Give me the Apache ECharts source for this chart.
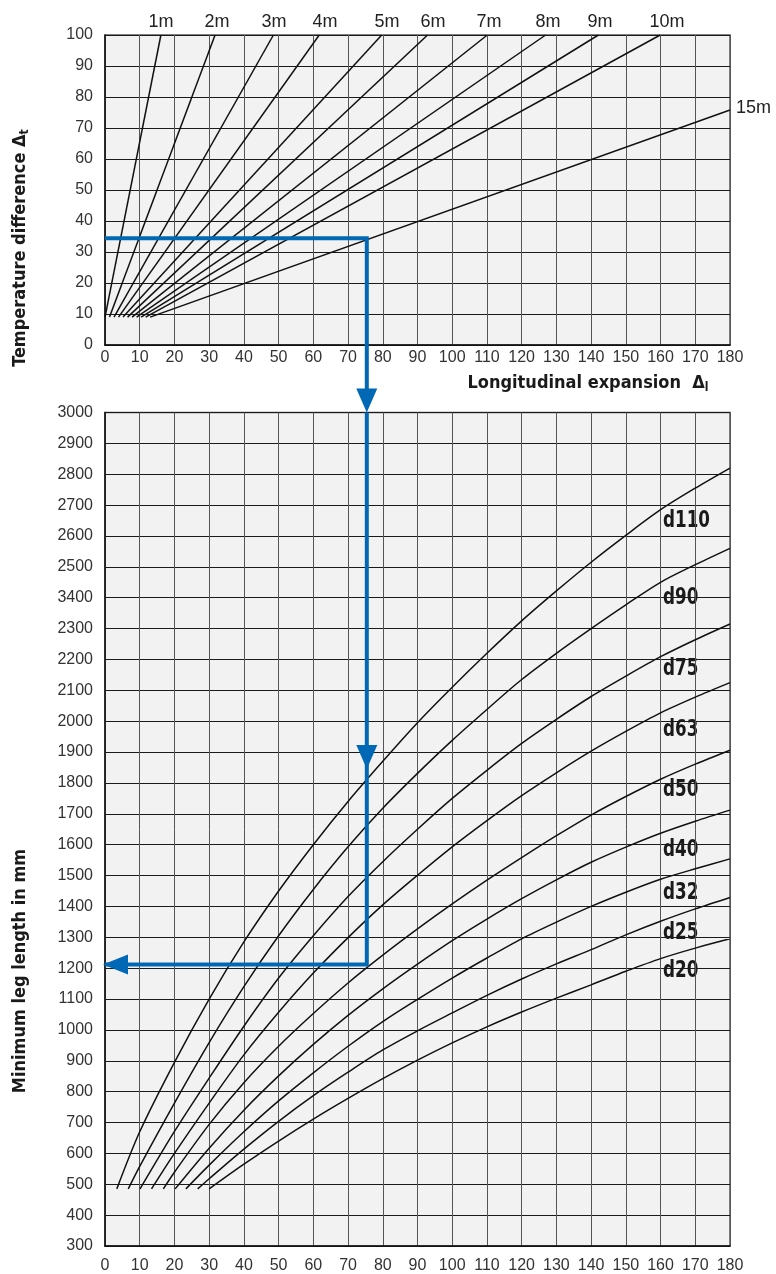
<!DOCTYPE html>
<html>
<head>
<meta charset="utf-8">
<script src="https://cdn.jsdelivr.net/npm/echarts@6/dist/echarts.min.js"></script>
<style>
  html, body { margin: 0; padding: 0; background: #fff; }
  #chart { width: 776px; height: 1274px; }
</style>
</head>
<body>
<div id="chart"></div>
<script>
// top diagram: longitudinal expansion per pipe length
const pipeLengths = ['1m', '2m', '3m', '4m', '5m', '6m', '7m', '8m', '9m', '10m', '15m'];
const startExpansion = [0, 1.3, 2.6, 3.9, 5.2, 6.5, 7.8, 9.1, 10.4, 11.7, 13];
const startTemp = 9;
const endExpansion = [16.1, 31.7, 48.5, 61.7, 79.7, 92.9, 110.1, 126.9, 142.1, 159.9, 180];
const endTemp = [100, 100, 100, 100, 100, 100, 100, 100, 100, 100, 75.8];

// bottom diagram: minimum leg length per pipe diameter
const d110 = [[3.4, 485], [10, 670], [20, 895], [30, 1100], [40, 1285], [50, 1450], [60, 1600], [70, 1740], [80, 1870], [90, 1995], [100, 2110], [110, 2220], [120, 2325], [130, 2422], [140, 2515], [150, 2602], [160, 2685], [170, 2755], [180, 2820]];
const d90 = [[6.7, 485], [10, 558], [20, 763], [30, 959], [40, 1140], [50, 1305], [60, 1455], [70, 1593], [80, 1718], [90, 1831], [100, 1938], [110, 2038], [120, 2135], [130, 2220], [140, 2300], [150, 2377], [160, 2450], [170, 2507], [180, 2560]];
const d75 = [[10.1, 485], [20, 671], [30, 844], [40, 1012], [50, 1168], [60, 1305], [70, 1432], [80, 1545], [90, 1650], [100, 1750], [110, 1841], [120, 1928], [130, 2006], [140, 2080], [150, 2146], [160, 2209], [170, 2264], [180, 2315]];
const d63 = [[13.4, 485], [20, 600], [30, 763], [40, 919], [50, 1057], [60, 1184], [70, 1299], [80, 1405], [90, 1501], [100, 1593], [110, 1678], [120, 1759], [130, 1833], [140, 1903], [150, 1967], [160, 2027], [170, 2078], [180, 2125]];
const d50 = [[16.8, 485], [20, 539], [30, 694], [40, 829], [50, 947], [60, 1053], [70, 1152], [80, 1242], [90, 1327], [100, 1408], [110, 1485], [120, 1558], [130, 1629], [140, 1696], [150, 1756], [160, 1812], [170, 1861], [180, 1906]];
const d40 = [[20.2, 485], [30, 617], [40, 740], [50, 851], [60, 953], [70, 1047], [80, 1133], [90, 1213], [100, 1289], [110, 1359], [120, 1425], [130, 1486], [140, 1543], [150, 1592], [160, 1637], [170, 1676], [180, 1712]];
const d32 = [[23.3, 485], [30, 562], [40, 670], [50, 770], [60, 861], [70, 947], [80, 1027], [90, 1099], [100, 1168], [110, 1233], [120, 1295], [130, 1349], [140, 1400], [150, 1446], [160, 1488], [170, 1522], [180, 1554]];
const d25 = [[26.7, 485], [30, 518], [40, 614], [50, 704], [60, 787], [70, 863], [80, 935], [90, 997], [100, 1055], [110, 1112], [120, 1165], [130, 1214], [140, 1260], [150, 1308], [160, 1352], [170, 1392], [180, 1429]];
const d20 = [[30, 485], [40, 565], [50, 640], [60, 711], [70, 778], [80, 842], [90, 902], [100, 958], [110, 1010], [120, 1058], [130, 1103], [140, 1146], [150, 1190], [160, 1231], [170, 1265], [180, 1295]];
const diameterNames = ['d110', 'd90', 'd75', 'd63', 'd50', 'd40', 'd32', 'd25', 'd20'];
const diameterCurves = [d110, d90, d75, d63, d50, d40, d32, d25, d20];

// tick labels (the original sheet prints 3400 where 2400 belongs)
const tempTicks = ['0', '10', '20', '30', '40', '50', '60', '70', '80', '90', '100'];
const expansionTicks = ['0', '10', '20', '30', '40', '50', '60', '70', '80', '90', '100', '110', '120', '130', '140', '150', '160', '170', '180'];
const legTicks = ['300', '400', '500', '600', '700', '800', '900', '1000', '1100', '1200', '1300', '1400', '1500', '1600', '1700', '1800', '1900', '2000', '2100', '2200', '2300', '3400', '2500', '2600', '2700', '2800', '2900', '3000'];

// worked example (blue path)
const exampleTemp = 34.4;
const exampleExpansion = 75.4;
const exampleLeg = 1212;
const midArrowLeg = 1845;

// label placement (pixels)
const lengthLabelX = [161, 217, 274, 325, 387, 433, 489, 548, 600, 667];
const diameterLabelY = [521, 598, 669, 730, 790, 850, 893, 933, 971];

const tickFont = 'Liberation Sans, Arial, sans-serif';
const boldFont = '"Liberation Sans Narrow", "DejaVu Sans Condensed", "Liberation Sans", sans-serif';
const blue = '#0068b4';

const chart = echarts.init(document.getElementById('chart'));

function axisLabel(list, start, step, margin) {
  return {
    color: '#333',
    fontFamily: tickFont,
    fontSize: 16,
    margin: margin,
    formatter: v => list[Math.round((v - start) / step)]
  };
}

const series = [];
pipeLengths.forEach((name, i) => {
  series.push({
    name, type: 'line', xAxisIndex: 0, yAxisIndex: 0,
    data: [[startExpansion[i], startTemp], [endExpansion[i], endTemp[i]]],
    symbol: 'none', lineStyle: { color: '#111', width: 1.5 }, silent: true
  });
});
diameterCurves.forEach((data, i) => {
  series.push({
    name: diameterNames[i], type: 'line', xAxisIndex: 1, yAxisIndex: 1,
    data, smooth: 0.3, symbol: 'none',
    lineStyle: { color: '#111', width: 1.5 }, silent: true
  });
});
series.push({
  type: 'line', xAxisIndex: 0, yAxisIndex: 0, clip: false, z: 5,
  data: [[0, exampleTemp], [exampleExpansion, exampleTemp], [exampleExpansion, -18]],
  symbol: 'none', lineStyle: { color: blue, width: 4, cap: 'butt', join: 'miter' }, silent: true
});
series.push({
  type: 'line', xAxisIndex: 1, yAxisIndex: 1, clip: false, z: 5,
  data: [[exampleExpansion, 3000], [exampleExpansion, exampleLeg], [0, exampleLeg]],
  symbol: 'none', lineStyle: { color: blue, width: 4, cap: 'butt', join: 'miter' }, silent: true
});
series.push({
  type: 'scatter', xAxisIndex: 1, yAxisIndex: 1, clip: false, z: 6, silent: true,
  itemStyle: { color: blue, opacity: 1 },
  data: [
    { value: [exampleExpansion, 3000], symbol: 'triangle', symbolSize: [21, 24], symbolRotate: 180, symbolOffset: [0, -12] },
    { value: [exampleExpansion, midArrowLeg], symbol: 'triangle', symbolSize: [21, 24], symbolRotate: 180, symbolOffset: [0, -12] },
    { value: [0, exampleLeg], symbol: 'triangle', symbolSize: [20, 25], symbolRotate: 90, symbolOffset: [10.5, 0] }
  ]
});

const graphic = [];
pipeLengths.slice(0, 10).forEach((name, i) => {
  graphic.push({ type: 'text', x: lengthLabelX[i], y: 22,
    style: { text: name, fill: '#222', font: '18px ' + tickFont, align: 'center', verticalAlign: 'middle' } });
});
graphic.push({ type: 'text', x: 736, y: 108,
  style: { text: '15m', fill: '#222', font: '18px ' + tickFont, align: 'left', verticalAlign: 'middle' } });
diameterNames.forEach((name, i) => {
  graphic.push({ type: 'text', x: 663, y: diameterLabelY[i], scaleX: 0.81,
    style: { text: name, fill: '#1a1a1a', font: 'bold 23px ' + boldFont, align: 'left', verticalAlign: 'middle' } });
});
const richTitle = {
  a: { fontFamily: boldFont, fontWeight: 'bold', fontSize: 18, fill: '#1a1a1a', lineHeight: 22 },
  b: { fontFamily: boldFont, fontWeight: 'bold', fontSize: 12, fill: '#1a1a1a', lineHeight: 22, padding: [9, 0, 0, 0] }
};
graphic.push({ type: 'text', x: 20, y: 248, rotation: Math.PI / 2,
  style: { text: '{a|Temperature difference Δ}{b|t}', rich: richTitle, align: 'center', verticalAlign: 'middle' } });
graphic.push({ type: 'text', x: 588, y: 383,
  style: { text: '{a|Longitudinal expansion  Δ}{b|l}', rich: richTitle, align: 'center', verticalAlign: 'middle' } });
graphic.push({ type: 'text', x: 20, y: 971, rotation: Math.PI / 2,
  style: { text: 'Minimum leg length in mm', fill: '#1a1a1a', font: 'bold 18px ' + boldFont, align: 'center', verticalAlign: 'middle' } });

const option = {
  animation: false,
  backgroundColor: '#fff',
  grid: [
    { left: 105, top: 35, width: 625, height: 310, show: true, backgroundColor: '#f2f2f2', borderColor: '#555', borderWidth: 1.5 },
    { left: 105, top: 412.5, width: 625, height: 834, show: true, backgroundColor: '#f2f2f2', borderColor: '#555', borderWidth: 1.5 }
  ],
  xAxis: [
    { type: 'value', gridIndex: 0, min: 0, max: 180, interval: 10,
      axisLine: { show: true, lineStyle: { color: '#111', width: 1.5 } }, axisTick: { show: false },
      axisLabel: axisLabel(expansionTicks, 0, 10, 5),
      splitLine: { show: true, lineStyle: { color: '#555', width: 1 } } },
    { type: 'value', gridIndex: 1, min: 0, max: 180, interval: 10,
      axisLine: { show: true, lineStyle: { color: '#111', width: 1.5 } }, axisTick: { show: false },
      axisLabel: axisLabel(expansionTicks, 0, 10, 12),
      splitLine: { show: true, lineStyle: { color: '#555', width: 1 } } }
  ],
  yAxis: [
    { type: 'value', gridIndex: 0, min: 0, max: 100, interval: 10,
      axisLine: { show: true, lineStyle: { color: '#111', width: 1.5 } }, axisTick: { show: false },
      axisLabel: axisLabel(tempTicks, 0, 10, 12),
      splitLine: { show: true, lineStyle: { color: '#1a1a1a', width: 1 } } },
    { type: 'value', gridIndex: 1, min: 300, max: 3000, interval: 100,
      axisLine: { show: true, lineStyle: { color: '#111', width: 1.5 } }, axisTick: { show: false },
      axisLabel: axisLabel(legTicks, 300, 100, 12),
      splitLine: { show: true, lineStyle: { color: '#1a1a1a', width: 1 } } }
  ],
  series,
  graphic
};

chart.setOption(option);
</script>
</body>
</html>
